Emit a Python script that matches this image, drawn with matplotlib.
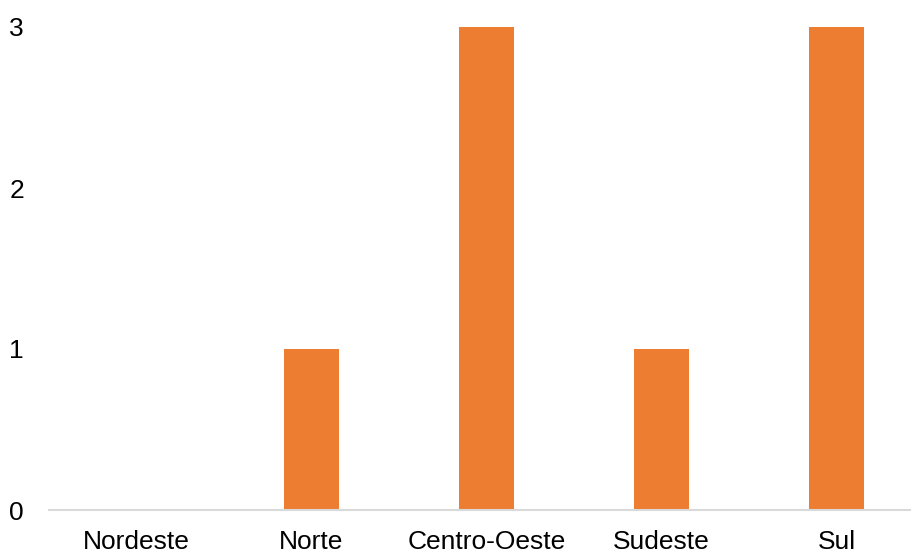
import matplotlib
matplotlib.use("Agg")
import matplotlib.pyplot as plt

plt.rcParams['font.family'] = ['Liberation Sans', 'DejaVu Sans']

regioes = ["Nordeste", "Norte", "Centro-Oeste", "Sudeste", "Sul"]
valores = [0, 1, 3, 1, 3]
yticks = [0, 1, 2, 3]

fig = plt.figure(figsize=(9.12, 5.53), dpi=100)
ax = fig.add_axes([49 / 912, 43 / 553, 875 / 912, 483 / 553])

x = list(range(len(regioes)))
ax.bar(x, valores, width=0.314, color="#ED7D31", zorder=2)

ax.set_xlim(-0.5, len(regioes) - 0.5)
ax.set_ylim(0, 3)
ax.set_xticks(x)
ax.set_xticklabels(regioes, fontsize=19)
ax.set_yticks(yticks)
ax.set_yticklabels([str(v) for v in yticks], fontsize=19)

for side in ("top", "right", "left"):
    ax.spines[side].set_visible(False)
ax.spines["bottom"].set_color("#d9d9d9")
ax.spines["bottom"].set_linewidth(1.5)
ax.spines["bottom"].set_zorder(3)

ax.tick_params(axis="both", length=0)
ax.tick_params(axis="x", pad=14.5)
ax.tick_params(axis="y", pad=18)

fig.savefig("out.png", dpi=100)
